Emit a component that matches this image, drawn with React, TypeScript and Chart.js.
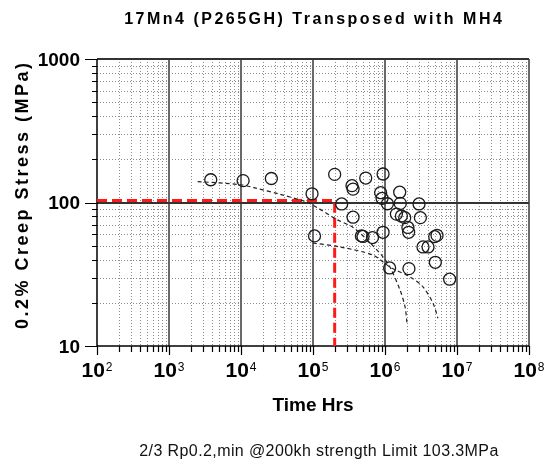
import React, { useEffect, useLayoutEffect, useRef } from 'react';
import { Chart, registerables } from 'chart.js';

Chart.register(...registerables);

const TITLE = '17Mn4 (P265GH) Transposed with MH4';
const X_TITLE = 'Time Hrs';
const Y_TITLE = '0.2% Creep Stress (MPa)';
const FOOTER = '2/3 Rp0.2,min @200kh strength Limit 103.3MPa';

const X_MIN = 1e2;
const X_MAX = 1e8;
const Y_MIN = 10;
const Y_MAX = 1000;
const xTickExponents = [2, 3, 4, 5, 6, 7, 8];
const yTickValues = [10, 100, 1000];
const yTickLabels = ['10', '100', '1000'];

// Creep test results (time to 0.2% strain, stress)
const testHours = [
  3800, 10700, 26400, 97000, 105000, 200000, 250000, 348000, 360000, 540000,
  360000, 470000, 495000, 670000, 940000, 870000, 910000, 1080000, 940000, 1160000,
  1600000, 1630000, 1440000, 1690000, 1880000, 2080000, 2130000, 2150000, 2970000, 3100000,
  3370000, 3960000, 4900000, 5280000, 5000000, 7900000,
];
const testStress = [
  144, 142, 147, 115, 58.5, 157, 97.7, 131, 124, 148,
  79, 58.5, 58, 57, 158, 117, 107, 98, 62, 35,
  118, 98.6, 83, 80.5, 78.4, 67, 62, 34.6, 97.7, 78.4,
  49, 49, 57.8, 59, 38.3, 29.2,
];

// Dashed fitted curves
const meanCurveHours = [2500, 10000, 15000, 35000, 80000, 115000, 215000, 360000, 600000, 940000, 1170000, 1620000, 1900000, 2020000];
const meanCurveStress = [140, 133, 127, 114, 101, 92, 76, 67, 53.3, 41.7, 35.5, 24.5, 18.7, 14.4];
const lowerCurveHours = [100000, 237000, 681000, 1170000, 2220000, 3370000, 4640000, 5450000];
const lowerCurveStress = [52.2, 49, 43, 35.5, 30.3, 25.8, 19.9, 15.6];

// 2/3 Rp0.2,min limit at 200 kh
const limitHours = [100, 200000, 200000];
const limitStress = [103.3, 103.3, 10];

const FONT = "'Liberation Sans', Arial, Helvetica, sans-serif";
const W = 544;
const H = 463;

const zip = (xs: number[], ys: number[]) => xs.map((x, i) => ({ x, y: ys[i] }));

const decor = {
  id: 'decor',
  beforeDatasetsDraw(chart: any) {
    const { ctx, chartArea: a, scales } = chart;
    const xs = scales.x;
    const ys = scales.y;
    ctx.save();
    // minor dotted grid
    ctx.lineWidth = 1;
    ctx.strokeStyle = '#8c8c8c';
    ctx.setLineDash([1, 2]);
    ctx.beginPath();
    for (let e = 2; e < 8; e++) {
      for (let m = 2; m <= 9; m++) {
        const px = Math.round(xs.getPixelForValue(m * 10 ** e)) + 0.5;
        ctx.moveTo(px, a.top);
        ctx.lineTo(px, a.bottom);
      }
    }
    for (let e = 1; e < 3; e++) {
      for (let m = 2; m <= 9; m++) {
        const py = Math.round(ys.getPixelForValue(m * 10 ** e)) + 0.5;
        ctx.moveTo(a.left, py);
        ctx.lineTo(a.right, py);
      }
    }
    ctx.stroke();
    ctx.setLineDash([]);
    // major verticals
    ctx.strokeStyle = '#6a6a6a';
    ctx.lineWidth = 2;
    ctx.beginPath();
    for (let e = 3; e <= 8; e++) {
      const px = Math.round(xs.getPixelForValue(10 ** e));
      ctx.moveTo(px, a.top);
      ctx.lineTo(px, a.bottom);
    }
    ctx.stroke();
    // major horizontals
    ctx.strokeStyle = '#333';
    ctx.lineWidth = 2;
    ctx.beginPath();
    [100, 1000].forEach((v) => {
      const py = Math.round(ys.getPixelForValue(v));
      ctx.moveTo(a.left, py);
      ctx.lineTo(a.right, py);
    });
    ctx.stroke();
    // axes
    ctx.strokeStyle = '#000';
    ctx.lineWidth = 1.5;
    ctx.beginPath();
    ctx.moveTo(a.left, a.top);
    ctx.lineTo(a.left, a.bottom);
    ctx.lineTo(a.right, a.bottom);
    ctx.stroke();
    // tick marks
    ctx.lineWidth = 1.2;
    ctx.beginPath();
    for (let e = 1; e <= 3; e++) {
      for (let m = 1; m <= 9; m++) {
        if (e === 3 && m > 1) break;
        const py = Math.round(ys.getPixelForValue(m * 10 ** e)) + 0.5;
        const len = m === 1 ? 12 : 5;
        ctx.moveTo(a.left - len, py);
        ctx.lineTo(a.left, py);
      }
    }
    for (let e = 2; e <= 8; e++) {
      for (let m = 1; m <= 9; m++) {
        if (e === 8 && m > 1) break;
        const px = Math.round(xs.getPixelForValue(m * 10 ** e)) + 0.5;
        const len = m === 1 ? 9 : 6;
        ctx.moveTo(px, a.bottom);
        ctx.lineTo(px, a.bottom + len);
      }
    }
    ctx.stroke();
    ctx.restore();
  },
  afterDraw(chart: any) {
    const { ctx, chartArea: a, scales } = chart;
    const xs = scales.x;
    const ys = scales.y;
    const cx = (a.left + a.right) / 2;
    ctx.save();
    ctx.fillStyle = '#000';
    // title
    ctx.font = `bold 16px ${FONT}`;
    (ctx as any).letterSpacing = '2.5px';
    ctx.textAlign = 'center';
    ctx.textBaseline = 'alphabetic';
    ctx.fillText(TITLE, cx + 1.25, 23.5);
    (ctx as any).letterSpacing = '0px';
    // y tick labels
    ctx.font = `bold 19px ${FONT}`;
    ctx.textAlign = 'right';
    yTickValues.forEach((v, i) => {
      const py = ys.getPixelForValue(v);
      ctx.fillText(yTickLabels[i], 80, py + 6.8);
    });
    // x tick labels 10^n
    ctx.textAlign = 'left';
    xTickExponents.forEach((e) => {
      const px = xs.getPixelForValue(10 ** e);
      ctx.font = `bold 21px ${FONT}`;
      const w1 = ctx.measureText('10').width;
      ctx.font = `12px ${FONT}`;
      const w2 = ctx.measureText(String(e)).width;
      const start = px - (w1 + 1 + w2) / 2;
      ctx.font = `bold 21px ${FONT}`;
      ctx.fillText('10', start, a.bottom + 31);
      ctx.font = `12px ${FONT}`;
      ctx.fillText(String(e), start + w1 + 1, a.bottom + 24.5);
    });
    // x title
    ctx.font = `bold 19px ${FONT}`;
    ctx.textAlign = 'center';
    ctx.fillText(X_TITLE, cx, 411);
    // y title
    ctx.save();
    ctx.translate(28, 196);
    ctx.rotate(-Math.PI / 2);
    ctx.font = `bold 18px ${FONT}`;
    (ctx as any).letterSpacing = '2.5px';
    ctx.fillText(Y_TITLE, 1.25, 0);
    (ctx as any).letterSpacing = '0px';
    ctx.restore();
    // footer
    ctx.font = `16px ${FONT}`;
    ctx.fillStyle = '#111';
    (ctx as any).letterSpacing = '0.4px';
    ctx.fillText(FOOTER, 319, 456);
    ctx.restore();
  },
};

export default function App() {
  const ref = useRef<HTMLCanvasElement | null>(null);

  useLayoutEffect(() => {
    const prev = document.body.style.margin;
    document.body.style.margin = '0';
    return () => {
      document.body.style.margin = prev;
    };
  }, []);

  useEffect(() => {
    if (!ref.current) return;
    const chart = new Chart(ref.current, {
      type: 'scatter',
      data: {
        datasets: [
          {
            label: 'Tests',
            data: zip(testHours, testStress),
            pointStyle: 'circle',
            pointRadius: 6,
            pointBorderWidth: 1.3,
            borderColor: '#1a1a1a',
            backgroundColor: 'rgba(0,0,0,0)',
            showLine: false,
          },
          {
            label: 'Mean',
            data: zip(meanCurveHours, meanCurveStress),
            showLine: true,
            pointRadius: 0,
            borderColor: '#222',
            borderWidth: 1.2,
            borderDash: [4, 3],
            tension: 0.3,
          },
          {
            label: 'Lower',
            data: zip(lowerCurveHours, lowerCurveStress),
            showLine: true,
            pointRadius: 0,
            borderColor: '#222',
            borderWidth: 1.2,
            borderDash: [4, 3],
            tension: 0.3,
          },
          {
            label: 'Limit',
            data: zip(limitHours, limitStress),
            showLine: true,
            pointRadius: 0,
            borderColor: '#ff1a1a',
            borderWidth: 3,
            borderDash: [10, 5],
            tension: 0,
          },
        ],
      },
      options: {
        responsive: false,
        animation: false,
        events: [],
        layout: { padding: { left: 0, right: 15, top: 59, bottom: 0 } },
        plugins: { legend: { display: false }, title: { display: false }, tooltip: { enabled: false } },
        scales: {
          x: {
            type: 'logarithmic',
            min: X_MIN,
            max: X_MAX,
            grid: { display: false },
            border: { display: false },
            ticks: { display: false },
            afterFit: (s: any) => { s.height = 117; },
          },
          y: {
            type: 'logarithmic',
            min: Y_MIN,
            max: Y_MAX,
            grid: { display: false },
            border: { display: false },
            ticks: { display: false },
            afterFit: (s: any) => { s.width = 97; },
          },
        },
      },
      plugins: [decor],
    } as any);
    return () => chart.destroy();
  }, []);

  return (
    <div style={{ width: W, height: H }}>
      <canvas ref={ref} width={W} height={H} style={{ display: 'block' }} />
    </div>
  );
}
